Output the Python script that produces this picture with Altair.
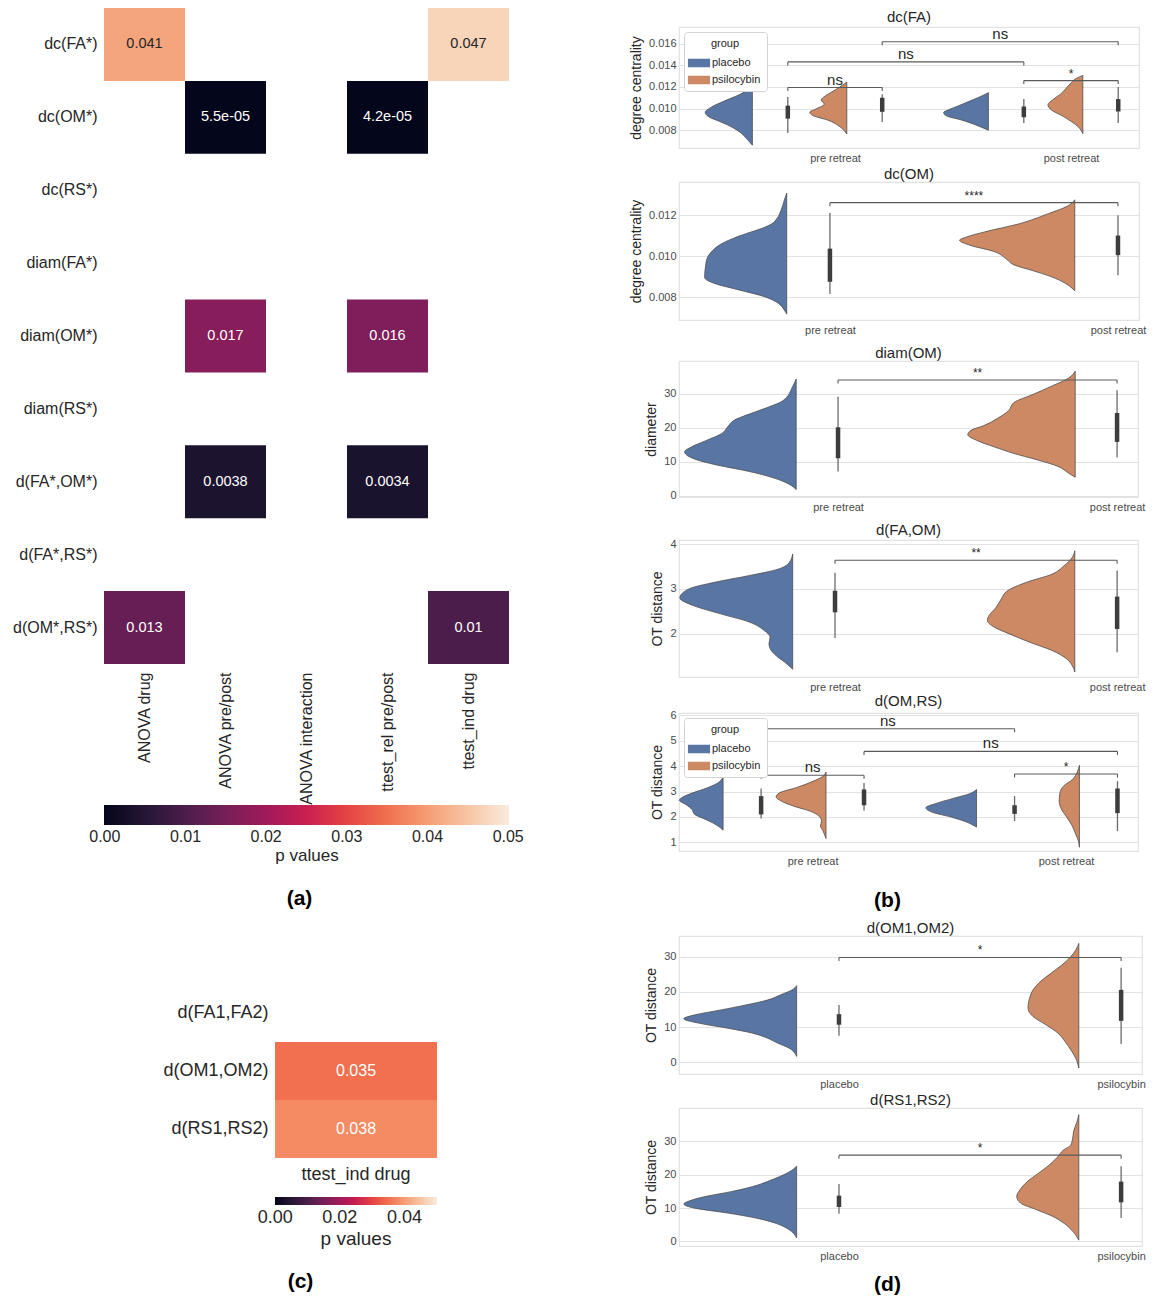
import altair as alt
import pandas as pd

FONT = "Liberation Sans"
INK = "#262626"
TICK = "#4a4a4a"
GRID = "#e2e2e2"
BLUE = "#5975a4"
ORANGE = "#cc8963"
ROCKET = ["#03051a", "#35193e", "#701f57", "#ad1759", "#e13342", "#f37651", "#f6b48f", "#faebdd"]
GROUPS = ["placebo", "psilocybin"]

# ---------------- (a) p-value heatmap ----------------
a_rows = ["dc(FA*)", "dc(OM*)", "dc(RS*)", "diam(FA*)", "diam(OM*)", "diam(RS*)",
          "d(FA*,OM*)", "d(FA*,RS*)", "d(OM*,RS*)"]
a_cols = ["ANOVA drug", "ANOVA pre/post", "ANOVA interaction", "ttest_rel pre/post", "ttest_ind drug"]
a_cell_row = ["dc(FA*)", "dc(FA*)", "dc(OM*)", "dc(OM*)", "diam(OM*)", "diam(OM*)",
              "d(FA*,OM*)", "d(FA*,OM*)", "d(OM*,RS*)", "d(OM*,RS*)"]
a_cell_col = ["ANOVA drug", "ttest_ind drug", "ANOVA pre/post", "ttest_rel pre/post",
              "ANOVA pre/post", "ttest_rel pre/post", "ANOVA pre/post", "ttest_rel pre/post",
              "ANOVA drug", "ttest_ind drug"]
a_cell_p = [0.041, 0.047, 5.5e-05, 4.2e-05, 0.017, 0.016, 0.0038, 0.0034, 0.013, 0.01]
a_legend_ticks = [0.0, 0.01, 0.02, 0.03, 0.04, 0.05]

# ---------------- (c) p-value heatmap ----------------
c_rows = ["d(FA1,FA2)", "d(OM1,OM2)", "d(RS1,RS2)"]
c_cols = ["ttest_ind drug"]
c_cell_row = ["d(OM1,OM2)", "d(RS1,RS2)"]
c_cell_col = ["ttest_ind drug", "ttest_ind drug"]
c_cell_p = [0.035, 0.038]
c_legend_ticks = [0.0, 0.02, 0.04]

# ---------------- (b) dc(FA) ----------------
b1_pla_pre_y = [0.01221, 0.01173, 0.0112, 0.01067, 0.01013, 0.00965, 0.0092, 0.0088, 0.00827, 0.00773, 0.0072, 0.00661]
b1_pla_pre_w = [0, 0.10, 0.32, 0.61, 0.87, 1.0, 0.91, 0.69, 0.43, 0.24, 0.12, 0]
b1_psi_pre_y = [0.01245, 0.01213, 0.0116, 0.01115, 0.0108, 0.0104, 0.0100, 0.00965, 0.00933, 0.00893, 0.0084, 0.008, 0.00765]
b1_psi_pre_w = [0, 0.13, 0.37, 0.59, 0.69, 0.61, 0.81, 1.0, 0.9, 0.51, 0.22, 0.08, 0]
b1_pla_post_y = [0.01147, 0.01107, 0.01067, 0.01027, 0.00987, 0.00965, 0.00933, 0.00893, 0.00853, 0.00821, 0.008]
b1_pla_post_w = [0, 0.2, 0.43, 0.66, 0.9, 1.0, 0.94, 0.59, 0.31, 0.12, 0]
b1_psi_post_y = [0.01307, 0.0128, 0.0124, 0.01187, 0.01133, 0.0108, 0.01035, 0.00987, 0.00933, 0.0088, 0.00827, 0.00768]
b1_psi_post_w = [0, 0.18, 0.33, 0.48, 0.64, 0.87, 1.0, 0.9, 0.59, 0.33, 0.12, 0]
b1_box_pos = [-0.2, 0.2, 0.8, 1.2]
b1_box_lo = [0.00773, 0.00875, 0.00867, 0.00867]
b1_box_q1 = [0.00907, 0.0097, 0.0092, 0.00973]
b1_box_q3 = [0.01027, 0.0110, 0.01019, 0.01088]
b1_box_hi = [0.01107, 0.01133, 0.01088, 0.0120]
b1_br_x1 = [-0.2, -0.2, 0.2, 0.8]
b1_br_x2 = [0.2, 0.8, 1.2, 1.2]
b1_br_y = [0.01195, 0.01432, 0.01619, 0.01259]
b1_br_lab = ["ns", "ns", "ns", "*"]

# ---------------- (b) dc(OM) ----------------
b2_pla_y = [0.01309, 0.01273, 0.01224, 0.01184, 0.01159, 0.01135, 0.01111, 0.01086, 0.01062, 0.01029,
            0.00989, 0.00948, 0.00896, 0.00867, 0.00834, 0.00802, 0.00769, 0.00737, 0.00717]
b2_pla_w = [0, 0.03, 0.07, 0.12, 0.18, 0.31, 0.49, 0.66, 0.79, 0.9, 0.97, 0.99, 1.0, 0.88, 0.57, 0.27, 0.1, 0.03, 0]
b2_psi_y = [0.01276, 0.01249, 0.01208, 0.01159, 0.01119, 0.01094, 0.01078, 0.01054, 0.01021, 0.00989,
            0.00956, 0.00932, 0.00899, 0.00867, 0.00831]
b2_psi_w = [0, 0.05, 0.23, 0.48, 0.78, 0.94, 1.0, 0.91, 0.69, 0.6, 0.52, 0.38, 0.2, 0.08, 0]
b2_box_pos = [0, 1]
b2_box_lo = [0.00815, 0.00907]
b2_box_q1 = [0.00875, 0.01005]
b2_box_q3 = [0.01037, 0.01101]
b2_box_hi = [0.01211, 0.0120]
b2_br_x1 = [0]
b2_br_x2 = [1]
b2_br_y = [0.01262]
b2_br_lab = ["****"]

# ---------------- (b) diam(OM) ----------------
b3_pla_y = [34.3, 32.2, 27.9, 25.9, 24.0, 22.1, 20.4, 18.2, 16.3, 14.3, 12.9, 11.0, 9.0, 7.1, 5.2, 3.3, 1.8]
b3_pla_w = [0, 0.03, 0.12, 0.26, 0.42, 0.56, 0.61, 0.67, 0.8, 0.94, 1.0, 0.93, 0.71, 0.42, 0.2, 0.06, 0]
b3_psi_y = [36.6, 34.6, 32.2, 29.8, 27.4, 25.0, 22.8, 20.6, 19.2, 17.9, 16.3, 14.3, 12.4, 10.5, 8.6, 6.6, 5.4]
b3_psi_w = [0, 0.06, 0.22, 0.39, 0.57, 0.62, 0.72, 0.85, 0.97, 1.0, 0.92, 0.75, 0.57, 0.35, 0.16, 0.06, 0]
b3_box_pos = [0, 1]
b3_box_lo = [7.1, 11.2]
b3_box_q1 = [11.0, 15.8]
b3_box_q3 = [20.1, 24.3]
b3_box_hi = [29.1, 31.0]
b3_br_x1 = [0]
b3_br_x2 = [1]
b3_br_y = [34.0]
b3_br_lab = ["**"]

# ---------------- (b) d(FA,OM) ----------------
b4_pla_y = [3.78, 3.59, 3.44, 3.30, 3.15, 3.0, 2.80, 2.63, 2.44, 2.26, 2.07, 1.93, 1.78, 1.63, 1.48, 1.33, 1.21]
b4_pla_w = [0, 0.03, 0.13, 0.38, 0.69, 0.92, 1.0, 0.88, 0.63, 0.38, 0.25, 0.2, 0.21, 0.19, 0.13, 0.05, 0]
b4_psi_y = [3.85, 3.70, 3.52, 3.33, 3.15, 2.96, 2.78, 2.59, 2.41, 2.30, 2.15, 2.0, 1.81, 1.63, 1.44, 1.26, 1.15]
b4_psi_w = [0, 0.03, 0.12, 0.26, 0.55, 0.77, 0.84, 0.9, 0.98, 1.0, 0.92, 0.75, 0.51, 0.26, 0.09, 0.02, 0]
b4_box_pos = [0, 1]
b4_box_lo = [1.91, 1.59]
b4_box_q1 = [2.48, 2.11]
b4_box_q3 = [2.96, 2.83]
b4_box_hi = [3.36, 3.41]
b4_br_x1 = [0]
b4_br_x2 = [1]
b4_br_y = [3.64]
b4_br_lab = ["**"]

# ---------------- (b) d(OM,RS) ----------------
b5_pla_pre_y = [3.56, 3.34, 3.14, 2.95, 2.75, 2.66, 2.49, 2.29, 2.10, 1.94, 1.77, 1.57, 1.48]
b5_pla_pre_w = [0, 0.12, 0.37, 0.69, 0.95, 1.0, 0.85, 0.71, 0.65, 0.45, 0.24, 0.06, 0]
b5_psi_pre_y = [3.77, 3.60, 3.41, 3.17, 2.95, 2.79, 2.62, 2.42, 2.23, 2.03, 1.84, 1.64, 1.45, 1.15]
b5_psi_pre_w = [0, 0.06, 0.25, 0.57, 0.93, 1.0, 0.89, 0.64, 0.32, 0.14, 0.09, 0.11, 0.06, 0]
b5_pla_post_y = [3.08, 2.91, 2.73, 2.55, 2.36, 2.19, 1.99, 1.81, 1.60]
b5_pla_post_w = [0, 0.14, 0.46, 0.77, 1.0, 0.88, 0.49, 0.21, 0]
b5_psi_post_y = [4.03, 3.80, 3.47, 3.21, 2.95, 2.62, 2.29, 1.97, 1.64, 1.31, 1.05, 0.81]
b5_psi_post_w = [0, 0.09, 0.35, 0.79, 0.96, 1.0, 0.88, 0.61, 0.35, 0.18, 0.05, 0]
b5_box_pos = [-0.203, 0.203, 0.797, 1.203]
b5_box_lo = [1.94, 2.25, 1.84, 1.44]
b5_box_q1 = [2.10, 2.46, 2.12, 2.15]
b5_box_q3 = [2.82, 3.08, 2.46, 3.12]
b5_box_hi = [3.12, 3.34, 2.82, 3.41]
b5_br_x1 = [-0.203, -0.203, 0.203, 0.797]
b5_br_x2 = [0.203, 0.797, 1.203, 1.203]
b5_br_y = [3.64, 5.47, 4.58, 3.69]
b5_br_lab = ["ns", "ns", "ns", "*"]

# ---------------- (d) d(OM1,OM2) ----------------
d1_pla_y = [21.8, 20.6, 19.2, 17.7, 16.3, 14.9, 13.5, 12.4, 11.1, 9.7, 8.3, 6.9, 5.5, 4.1, 1.7]
d1_pla_w = [0, 0.04, 0.14, 0.26, 0.45, 0.67, 0.9, 1.0, 0.86, 0.61, 0.39, 0.26, 0.17, 0.07, 0]
d1_psi_y = [33.8, 31.9, 30.0, 27.6, 25.3, 22.9, 20.6, 18.2, 15.4, 13.0, 10.7, 8.3, 5.9, 3.6, 1.2, -1.6]
d1_psi_w = [0, 0.06, 0.16, 0.34, 0.55, 0.76, 0.9, 0.97, 1.0, 0.9, 0.65, 0.41, 0.27, 0.16, 0.06, 0]
d1_box_pos = [0, 1]
d1_box_lo = [7.6, 5.2]
d1_box_q1 = [10.7, 11.8]
d1_box_q3 = [13.7, 20.6]
d1_box_hi = [16.3, 26.9]
d1_br_x1 = [0]
d1_br_x2 = [1]
d1_br_y = [29.8]
d1_br_lab = ["*"]

# ---------------- (d) d(RS1,RS2) ----------------
d2_pla_y = [22.5, 20.9, 19.4, 17.9, 16.4, 14.9, 13.5, 12.0, 11.2, 10.0, 8.5, 7.0, 5.6, 3.6, 1.1]
d2_pla_w = [0, 0.06, 0.15, 0.26, 0.39, 0.58, 0.8, 0.96, 1.0, 0.91, 0.61, 0.36, 0.2, 0.07, 0]
d2_psi_y = [37.9, 35.7, 33.2, 30.7, 28.8, 27.3, 25.3, 22.8, 20.4, 17.9, 15.4, 13.5, 11.5, 9.5, 7.5, 5.6, 3.1, 0.4]
d2_psi_w = [0, 0.03, 0.08, 0.1, 0.13, 0.25, 0.34, 0.48, 0.65, 0.83, 0.95, 1.0, 0.94, 0.68, 0.42, 0.25, 0.1, 0]
d2_box_pos = [0, 1]
d2_box_lo = [8.3, 7.0]
d2_box_q1 = [10.3, 11.7]
d2_box_q3 = [13.7, 17.9]
d2_box_hi = [17.2, 22.5]
d2_br_x1 = [0]
d2_br_x2 = [1]
d2_br_y = [25.8]
d2_br_lab = ["*"]


def rocket_scale():
    # tiny margin beyond [0, 0.05] keeps the end labels of the colour bar centred
    stops = [0.05 * i / 7 for i in range(8)]
    stops[0] = -0.0001
    stops[-1] = 0.0501
    return alt.Scale(domain=stops, range=ROCKET, clamp=True)


def panel_label(text, pad, tx):
    return dict(title=text, titleFontSize=21, titleFontWeight="bold", titleColor="black",
                titlePadding=pad, titleX=tx)


def heatmap(rows, cols, cell_row, cell_col, cell_p, width, height, fs_lab, fs_cell,
            x_angle, x_pad, legend, label):
    df = pd.DataFrame({"row": cell_row, "col": cell_col, "p": cell_p})
    df["lbl"] = [format(v, ".2g") for v in cell_p]
    x = alt.X("col:N", scale=alt.Scale(domain=cols, paddingInner=0, paddingOuter=0),
              axis=alt.Axis(labelAngle=x_angle, labelFontSize=fs_lab, labelColor=INK,
                            ticks=False, domain=False, labelPadding=x_pad, labelLimit=400,
                            **label))
    y = alt.Y("row:N", scale=alt.Scale(domain=rows, paddingInner=0, paddingOuter=0),
              axis=alt.Axis(title=None, labelFontSize=fs_lab, labelColor=INK, ticks=False,
                            domain=False, labelPadding=7, labelLimit=400))
    rect = alt.Chart(df).mark_rect().encode(
        x=x, y=y, color=alt.Color("p:Q", scale=rocket_scale(), legend=legend))
    text = alt.Chart(df).mark_text(fontSize=fs_cell).encode(
        x=x, y=y, text="lbl:N",
        color=alt.condition("datum.p > 0.04", alt.value(INK), alt.value("white")))
    return alt.layer(rect, text).properties(width=width, height=height)


def cbar(length, thick, ly, values, fs_lab, fs_title):
    return alt.Legend(orient="none", legendX=0, legendY=ly, direction="horizontal",
                      gradientLength=length, gradientThickness=thick, title="p values",
                      titleOrient="bottom", titleAnchor="middle", titleFontSize=fs_title,
                      titleFontWeight="normal", titleColor=INK, titlePadding=3,
                      labelFontSize=fs_lab, labelColor=INK, labelOffset=4, values=values,
                      format=".2f", gradientStrokeWidth=0)


EDGE = 0.15


def group_legend():
    return alt.Legend(title="group", orient="top-left", offset=5, fillColor="white",
                      strokeColor="#d3d3d3", padding=6, cornerRadius=3, titleFontSize=11,
                      titleFontWeight="normal", titleColor=INK, titleAnchor="middle",
                      labelFontSize=11, labelColor=INK,
                      symbolType="M-1.3,-0.5L1.3,-0.5L1.3,0.5L-1.3,0.5Z", symbolSize=290,
                      symbolStrokeWidth=0, symbolOpacity=1, rowPadding=3)


def violin_panel(title, ytitle, ydom, yvals, yfmt, xdom, xlabels, violins, boxes, brackets,
                 width, height, legend=None, label=None):
    vrows = []
    for vid, (pos, grp, maxw, ys, ws) in enumerate(violins):
        for yv, wv in sorted(zip(ys, ws)):
            vrows.append({"vid": vid, "group": grp, "y": yv,
                          "xl": pos - EDGE - wv * maxw, "xr": pos - EDGE})
    vdf = pd.DataFrame(vrows)
    pos, lo, q1, q3, hi = boxes
    bdf = pd.DataFrame({"pos": pos, "lo": lo, "q1": q1, "q3": q3, "hi": hi})
    x1, x2, yb, lab = brackets
    tick = 3.5 * (ydom[1] - ydom[0]) / height
    kdf = pd.DataFrame({"x1": x1, "x2": x2, "yb": yb, "lab": lab})
    kdf["yt"] = kdf["yb"] - tick
    kdf["xm"] = (kdf["x1"] + kdf["x2"]) / 2
    kdf["fs"] = [15 if s == "ns" else 12 for s in lab]

    xs = alt.Scale(domain=xdom, nice=False, zero=False)
    ysc = alt.Scale(domain=ydom, nice=False, zero=False)
    xlab = label if label else dict(title=None)
    xax = alt.Axis(values=[0, 1],
                   labelExpr=f"datum.value < 0.5 ? '{xlabels[0]}' : '{xlabels[1]}'",
                   ticks=False, tickSize=0, domain=False, grid=False, labelPadding=4,
                   labelFontSize=11, labelColor=TICK, labelFlush=False, **xlab)
    yax = alt.Axis(values=yvals, format=yfmt, title=ytitle, titleFontSize=14,
                   titleFontWeight="normal", titleColor=INK, titlePadding=5, labelFontSize=11,
                   labelColor=TICK, labelPadding=3, ticks=False, tickSize=0, domain=False,
                   grid=True, gridColor=GRID, gridWidth=1.2)

    def X(f):
        return alt.X(f, scale=xs, axis=xax)

    def Y(f):
        return alt.Y(f, scale=ysc, axis=yax)

    area = alt.Chart(vdf).mark_area(orient="horizontal", interpolate="monotone", stroke="#4d4d4d",
                                    strokeWidth=0.8, opacity=1).encode(
        y=Y("y:Q"), x=alt.X("xl:Q", scale=xs, axis=xax, stack=None), x2="xr:Q",
        color=alt.Color("group:N", scale=alt.Scale(domain=GROUPS, range=[BLUE, ORANGE]),
                        legend=legend),
        detail="vid:N")
    whisk = alt.Chart(bdf).mark_rule(color="#6a6a6a", strokeWidth=1.3).encode(
        x=X("pos:Q"), y=Y("lo:Q"), y2="hi:Q")
    iqr = alt.Chart(bdf).mark_rule(color="#3d3d3d", strokeWidth=4.5).encode(
        x=X("pos:Q"), y=Y("q1:Q"), y2="q3:Q")
    hline = alt.Chart(kdf).mark_rule(color="#5a5a5a", strokeWidth=1.1).encode(
        x=X("x1:Q"), x2="x2:Q", y=Y("yb:Q"))
    ltick = alt.Chart(kdf).mark_rule(color="#5a5a5a", strokeWidth=1.1).encode(
        x=X("x1:Q"), y=Y("yb:Q"), y2="yt:Q")
    rtick = alt.Chart(kdf).mark_rule(color="#5a5a5a", strokeWidth=1.1).encode(
        x=X("x2:Q"), y=Y("yb:Q"), y2="yt:Q")
    txt = alt.Chart(kdf).mark_text(baseline="alphabetic", dy=-3, color=INK).encode(
        x=X("xm:Q"), y=Y("yb:Q"), text="lab:N",
        size=alt.Size("fs:Q", scale=None, legend=None))
    props = dict(width=width, height=height,
                 view=alt.ViewBackground(stroke=GRID, strokeWidth=1.2))
    if title:
        props["title"] = alt.TitleParams(title, fontSize=15, fontWeight="normal", color=INK,
                                         offset=0, anchor="middle", frame="group")
    return alt.layer(area, whisk, iqr, hline, ltick, rtick, txt).properties(**props)


def heading(text, width, height):
    # a panel title drawn as its own small row, so that it does not push the plot origin
    return alt.Chart(pd.DataFrame({"t": [text]})).mark_text(
        fontSize=15, color=INK, baseline="bottom", align="center").encode(
        text="t:N", x=alt.value(width / 2), y=alt.value(height - 1)).properties(
        width=width, height=height)


def indep(ch):
    return ch.resolve_scale(x="independent", y="independent", color="independent",
                            size="independent").resolve_legend(color="independent")


PRE_POST = ["pre retreat", "post retreat"]
PLA_PSI = ["placebo", "psilocybin"]
FRAME_L = 678

A = heatmap(a_rows, a_cols, a_cell_row, a_cell_col, a_cell_p, 405, 656, 16, 14.5, 270, 8,
            cbar(405, 20, 797, a_legend_ticks, 16, 17), panel_label("(a)", 82, 195))
C = heatmap(c_rows, c_cols, c_cell_row, c_cell_col, c_cell_p, 162, 174, 18, 16, 0, 7,
            cbar(162, 8, 213, c_legend_ticks, 18, 19), panel_label("(c)", 87, 25))
spacer = alt.Chart(pd.DataFrame({"v": [0]})).mark_point(opacity=0).encode(
    x=alt.X("v:Q", axis=None), y=alt.Y("v:Q", axis=None)).properties(width=48, height=10)

b1_head = heading("dc(FA)", 460, 18)
b1 = violin_panel(None, "degree centrality", [0.00635, 0.01755],
                  [0.008, 0.010, 0.012, 0.014, 0.016], ".3f", [-0.661, 1.288], PRE_POST,
                  [(-0.2, "placebo", 0.20, b1_pla_pre_y, b1_pla_pre_w),
                   (0.2, "psilocybin", 0.157, b1_psi_pre_y, b1_psi_pre_w),
                   (0.8, "placebo", 0.19, b1_pla_post_y, b1_pla_post_w),
                   (1.2, "psilocybin", 0.148, b1_psi_post_y, b1_psi_post_w)],
                  (b1_box_pos, b1_box_lo, b1_box_q1, b1_box_q3, b1_box_hi),
                  (b1_br_x1, b1_br_x2, b1_br_y, b1_br_lab), 460, 121, legend=group_legend())
b2 = violin_panel("dc(OM)", "degree centrality", [0.00688, 0.01363], [0.008, 0.010, 0.012],
                  ".3f", [-0.524, 1.073], PRE_POST,
                  [(0, "placebo", 0.285, b2_pla_y, b2_pla_w),
                   (1, "psilocybin", 0.40, b2_psi_y, b2_psi_w)],
                  (b2_box_pos, b2_box_lo, b2_box_q1, b2_box_q3, b2_box_hi),
                  (b2_br_x1, b2_br_x2, b2_br_y, b2_br_lab), 460, 138)
b3 = violin_panel("diam(OM)", "diameter", [-0.4, 39.6], [0, 10, 20, 30], "d", [-0.570, 1.075],
                  PRE_POST,
                  [(0, "placebo", 0.40, b3_pla_y, b3_pla_w),
                   (1, "psilocybin", 0.385, b3_psi_y, b3_psi_w)],
                  (b3_box_pos, b3_box_lo, b3_box_q1, b3_box_q3, b3_box_hi),
                  (b3_br_x1, b3_br_x2, b3_br_y, b3_br_lab), 459, 136)
b4 = violin_panel("d(FA,OM)", "OT distance", [1.04, 4.09], [2, 3, 4], "d", [-0.553, 1.074],
                  PRE_POST,
                  [(0, "placebo", 0.40, b4_pla_y, b4_pla_w),
                   (1, "psilocybin", 0.31, b4_psi_y, b4_psi_w)],
                  (b4_box_pos, b4_box_lo, b4_box_q1, b4_box_q3, b4_box_hi),
                  (b4_br_x1, b4_br_x2, b4_br_y, b4_br_lab), 459, 137)
b5 = violin_panel("d(OM,RS)", "OT distance", [0.66, 6.09], [1, 2, 3, 4, 5, 6], "d",
                  [-0.527, 1.284], PRE_POST,
                  [(-0.203, "placebo", 0.173, b5_pla_pre_y, b5_pla_pre_w),
                   (0.203, "psilocybin", 0.197, b5_psi_pre_y, b5_psi_pre_w),
                   (0.797, "placebo", 0.20, b5_pla_post_y, b5_pla_post_w),
                   (1.203, "psilocybin", 0.08, b5_psi_post_y, b5_psi_post_w)],
                  (b5_box_pos, b5_box_lo, b5_box_q1, b5_box_q3, b5_box_hi),
                  (b5_br_x1, b5_br_x2, b5_br_y, b5_br_lab), 459, 138, legend=group_legend(),
                  label=panel_label("(b)", 23, 886 - FRAME_L))
d1 = violin_panel("d(OM1,OM2)", "OT distance", [-3.3, 35.9], [0, 10, 20, 30], "d",
                  [-0.567, 1.074], PLA_PSI,
                  [(0, "placebo", 0.40, d1_pla_y, d1_pla_w),
                   (1, "psilocybin", 0.18, d1_psi_y, d1_psi_w)],
                  (d1_box_pos, d1_box_lo, d1_box_q1, d1_box_q3, d1_box_hi),
                  (d1_br_x1, d1_br_x2, d1_br_y, d1_br_lab), 463, 138)
d2 = violin_panel("d(RS1,RS2)", "OT distance", [-1.35, 39.9], [0, 10, 20, 30], "d",
                  [-0.567, 1.074], PLA_PSI,
                  [(0, "placebo", 0.40, d2_pla_y, d2_pla_w),
                   (1, "psilocybin", 0.22, d2_psi_y, d2_psi_w)],
                  (d2_box_pos, d2_box_lo, d2_box_q1, d2_box_q3, d2_box_hi),
                  (d2_br_x1, d2_br_x2, d2_br_y, d2_br_lab), 463, 138,
                  label=panel_label("(d)", 12, 886 - FRAME_L))

T1 = indep(alt.vconcat(b1_head, b1, spacing=0))
G1 = indep(alt.vconcat(T1, b2, spacing=2))
G3 = indep(alt.vconcat(b4, b5, spacing=0))
B = indep(alt.vconcat(G1, b3, G3, spacing=9))
D = indep(alt.vconcat(d1, d2, spacing=2))
right = indep(alt.vconcat(B, D, spacing=9))
left = indep(alt.vconcat(A, indep(alt.hconcat(spacer, C, spacing=10)), spacing=75))

chart = indep(alt.hconcat(left, right, spacing=104)).properties(
    padding={"left": 4, "top": 0, "right": 0, "bottom": 0}
).configure(font=FONT).configure_view(stroke=None)

chart.save("out.html", embed_options={"renderer": "svg", "actions": False})
